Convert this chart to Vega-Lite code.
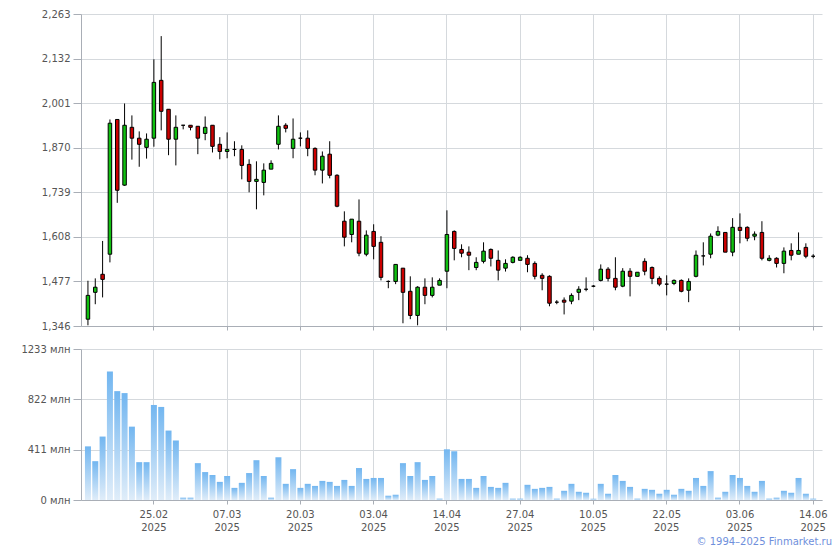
{
  "$schema": "https://vega.github.io/schema/vega-lite/v6.json",
  "padding": {"left": 20, "top": 9, "right": 0, "bottom": 0},
  "background": "white",
  "config": {
    "view": {"stroke": null},
    "font": "DejaVu Sans",
    "axis": {"labelFont": "DejaVu Sans", "labelFontSize": 10, "labelColor": "#555555", "domainColor": "#a9aeb6", "tickColor": "#a9aeb6", "gridColor": "#d5d9dd"}
  },
  "bounds": "flush",
  "spacing": 23,
  "title": {"text": "© 1994–2025 Finmarket.ru", "orient": "bottom", "anchor": "end", "fontSize": 10, "font": "DejaVu Sans", "fontWeight": "normal", "color": "#6f8fdc", "offset": 5, "dx": 5},
  "data": {"values": [
    {"d":"2025-02-12","o":1366,"h":1479,"l":1348,"c":1436,"v":438},
    {"d":"2025-02-13","o":1445,"h":1486,"l":1410,"c":1460,"v":317},
    {"d":"2025-02-14","o":1498,"h":1596,"l":1430,"c":1483,"v":518},
    {"d":"2025-02-17","o":1557,"h":1953,"l":1533,"c":1942,"v":1050},
    {"d":"2025-02-18","o":1953,"h":1953,"l":1708,"c":1745,"v":889},
    {"d":"2025-02-19","o":1760,"h":2000,"l":1758,"c":1936,"v":873},
    {"d":"2025-02-20","o":1930,"h":1965,"l":1835,"c":1898,"v":599},
    {"d":"2025-02-21","o":1898,"h":1918,"l":1814,"c":1880,"v":309},
    {"d":"2025-02-24","o":1871,"h":1912,"l":1838,"c":1895,"v":309},
    {"d":"2025-02-25","o":1898,"h":2130,"l":1873,"c":2062,"v":776},
    {"d":"2025-02-26","o":2068,"h":2198,"l":1921,"c":1977,"v":760},
    {"d":"2025-02-27","o":1983,"h":1983,"l":1848,"c":1895,"v":567},
    {"d":"2025-02-28","o":1895,"h":1965,"l":1818,"c":1930,"v":486},
    {"d":"2025-03-01","o":1936,"h":1936,"l":1924,"c":1936,"v":19},
    {"d":"2025-03-02","o":1936,"h":1936,"l":1921,"c":1930,"v":19},
    {"d":"2025-03-03","o":1933,"h":1933,"l":1851,"c":1898,"v":301},
    {"d":"2025-03-04","o":1912,"h":1962,"l":1892,"c":1930,"v":228},
    {"d":"2025-03-05","o":1936,"h":1936,"l":1856,"c":1874,"v":204},
    {"d":"2025-03-06","o":1880,"h":1901,"l":1836,"c":1859,"v":148},
    {"d":"2025-03-07","o":1859,"h":1915,"l":1839,"c":1865,"v":196},
    {"d":"2025-03-10","o":1865,"h":1889,"l":1845,"c":1865,"v":99},
    {"d":"2025-03-11","o":1865,"h":1877,"l":1777,"c":1818,"v":140},
    {"d":"2025-03-12","o":1821,"h":1836,"l":1739,"c":1771,"v":220},
    {"d":"2025-03-13","o":1771,"h":1830,"l":1689,"c":1777,"v":325},
    {"d":"2025-03-14","o":1768,"h":1824,"l":1730,"c":1804,"v":196},
    {"d":"2025-03-15","o":1807,"h":1833,"l":1807,"c":1824,"v":19},
    {"d":"2025-03-17","o":1880,"h":1965,"l":1865,"c":1933,"v":349},
    {"d":"2025-03-18","o":1936,"h":1942,"l":1915,"c":1927,"v":132},
    {"d":"2025-03-19","o":1868,"h":1956,"l":1839,"c":1895,"v":252},
    {"d":"2025-03-20","o":1898,"h":1915,"l":1874,"c":1898,"v":99},
    {"d":"2025-03-21","o":1898,"h":1921,"l":1845,"c":1868,"v":132},
    {"d":"2025-03-24","o":1868,"h":1871,"l":1789,"c":1804,"v":115},
    {"d":"2025-03-25","o":1804,"h":1859,"l":1765,"c":1845,"v":156},
    {"d":"2025-03-26","o":1851,"h":1889,"l":1780,"c":1789,"v":148},
    {"d":"2025-03-27","o":1789,"h":1792,"l":1695,"c":1698,"v":115},
    {"d":"2025-03-28","o":1654,"h":1683,"l":1580,"c":1607,"v":164},
    {"d":"2025-03-31","o":1615,"h":1660,"l":1592,"c":1660,"v":115},
    {"d":"2025-04-01","o":1654,"h":1718,"l":1551,"c":1560,"v":261},
    {"d":"2025-04-02","o":1557,"h":1627,"l":1551,"c":1613,"v":172},
    {"d":"2025-04-03","o":1624,"h":1645,"l":1542,"c":1580,"v":180},
    {"d":"2025-04-04","o":1592,"h":1610,"l":1480,"c":1489,"v":180},
    {"d":"2025-04-05","o":1477,"h":1480,"l":1457,"c":1477,"v":35},
    {"d":"2025-04-06","o":1477,"h":1527,"l":1469,"c":1527,"v":43},
    {"d":"2025-04-07","o":1516,"h":1516,"l":1354,"c":1445,"v":301},
    {"d":"2025-04-08","o":1448,"h":1492,"l":1366,"c":1377,"v":196},
    {"d":"2025-04-09","o":1377,"h":1463,"l":1348,"c":1460,"v":309},
    {"d":"2025-04-10","o":1460,"h":1486,"l":1410,"c":1436,"v":164},
    {"d":"2025-04-11","o":1436,"h":1489,"l":1430,"c":1460,"v":196},
    {"d":"2025-04-12","o":1466,"h":1486,"l":1466,"c":1480,"v":11},
    {"d":"2025-04-14","o":1507,"h":1686,"l":1457,"c":1615,"v":414},
    {"d":"2025-04-15","o":1624,"h":1627,"l":1539,"c":1574,"v":398},
    {"d":"2025-04-16","o":1571,"h":1586,"l":1548,"c":1560,"v":172},
    {"d":"2025-04-17","o":1563,"h":1580,"l":1510,"c":1554,"v":172},
    {"d":"2025-04-18","o":1518,"h":1548,"l":1510,"c":1533,"v":99},
    {"d":"2025-04-21","o":1536,"h":1592,"l":1530,"c":1566,"v":196},
    {"d":"2025-04-22","o":1571,"h":1574,"l":1521,"c":1545,"v":107},
    {"d":"2025-04-23","o":1539,"h":1568,"l":1480,"c":1510,"v":99},
    {"d":"2025-04-24","o":1516,"h":1542,"l":1506,"c":1530,"v":140},
    {"d":"2025-04-26","o":1533,"h":1551,"l":1530,"c":1548,"v":11},
    {"d":"2025-04-27","o":1539,"h":1551,"l":1539,"c":1548,"v":11},
    {"d":"2025-04-28","o":1545,"h":1554,"l":1504,"c":1527,"v":124},
    {"d":"2025-04-29","o":1530,"h":1536,"l":1483,"c":1492,"v":91},
    {"d":"2025-04-30","o":1495,"h":1501,"l":1451,"c":1486,"v":99},
    {"d":"2025-05-02","o":1492,"h":1495,"l":1404,"c":1413,"v":107},
    {"d":"2025-05-03","o":1416,"h":1422,"l":1410,"c":1416,"v":11},
    {"d":"2025-05-05","o":1422,"h":1430,"l":1380,"c":1416,"v":75},
    {"d":"2025-05-06","o":1419,"h":1442,"l":1410,"c":1436,"v":132},
    {"d":"2025-05-07","o":1445,"h":1463,"l":1422,"c":1454,"v":67},
    {"d":"2025-05-08","o":1454,"h":1489,"l":1448,"c":1454,"v":59},
    {"d":"2025-05-10","o":1463,"h":1466,"l":1460,"c":1463,"v":11},
    {"d":"2025-05-12","o":1480,"h":1527,"l":1477,"c":1513,"v":132},
    {"d":"2025-05-13","o":1513,"h":1519,"l":1477,"c":1486,"v":51},
    {"d":"2025-05-14","o":1486,"h":1548,"l":1451,"c":1460,"v":204},
    {"d":"2025-05-15","o":1463,"h":1516,"l":1460,"c":1507,"v":156},
    {"d":"2025-05-16","o":1507,"h":1516,"l":1433,"c":1492,"v":107},
    {"d":"2025-05-17","o":1492,"h":1504,"l":1492,"c":1504,"v":11},
    {"d":"2025-05-19","o":1536,"h":1545,"l":1495,"c":1507,"v":91},
    {"d":"2025-05-20","o":1518,"h":1521,"l":1469,"c":1486,"v":83},
    {"d":"2025-05-21","o":1486,"h":1492,"l":1463,"c":1469,"v":51},
    {"d":"2025-05-22","o":1469,"h":1495,"l":1436,"c":1469,"v":83},
    {"d":"2025-05-23","o":1471,"h":1483,"l":1466,"c":1480,"v":43},
    {"d":"2025-05-26","o":1480,"h":1483,"l":1445,"c":1448,"v":91},
    {"d":"2025-05-27","o":1451,"h":1486,"l":1416,"c":1477,"v":75},
    {"d":"2025-05-28","o":1492,"h":1568,"l":1489,"c":1554,"v":180},
    {"d":"2025-05-29","o":1552,"h":1592,"l":1524,"c":1552,"v":115},
    {"d":"2025-05-30","o":1557,"h":1618,"l":1545,"c":1610,"v":236},
    {"d":"2025-05-31","o":1613,"h":1639,"l":1610,"c":1624,"v":19},
    {"d":"2025-06-01","o":1621,"h":1621,"l":1563,"c":1563,"v":67},
    {"d":"2025-06-02","o":1563,"h":1663,"l":1551,"c":1636,"v":204},
    {"d":"2025-06-03","o":1636,"h":1677,"l":1589,"c":1627,"v":180},
    {"d":"2025-06-04","o":1636,"h":1639,"l":1595,"c":1604,"v":115},
    {"d":"2025-06-05","o":1610,"h":1624,"l":1598,"c":1616,"v":67},
    {"d":"2025-06-06","o":1621,"h":1654,"l":1539,"c":1545,"v":156},
    {"d":"2025-06-07","o":1539,"h":1554,"l":1536,"c":1545,"v":11},
    {"d":"2025-06-08","o":1545,"h":1548,"l":1518,"c":1530,"v":19},
    {"d":"2025-06-09","o":1530,"h":1577,"l":1501,"c":1566,"v":75},
    {"d":"2025-06-10","o":1568,"h":1589,"l":1539,"c":1554,"v":59},
    {"d":"2025-06-11","o":1557,"h":1621,"l":1557,"c":1568,"v":180},
    {"d":"2025-06-13","o":1577,"h":1589,"l":1545,"c":1551,"v":51},
    {"d":"2025-06-14","o":1551,"h":1557,"l":1545,"c":1551,"v":11}
  ]},
  "vconcat": [
    {
      "width": 741,
      "height": 312,
      "encoding": {
        "x": {"field": "d", "type": "ordinal", "sort": null,
          "scale": {"type": "band", "paddingInner": 0, "paddingOuter": 0.575, "align": 0.39},
          "axis": {"values": ["2025-02-25","2025-03-07","2025-03-20","2025-04-03","2025-04-14","2025-04-27","2025-05-10","2025-05-22","2025-06-03","2025-06-14"],
            "labels": false, "ticks": true, "tickSize": 4, "grid": true, "bandPosition": 0.5, "title": null}}
      },
      "layer": [
        {"mark": {"type": "rule", "color": "black", "strokeWidth": 1},
         "encoding": {
           "y": {"field": "l", "type": "quantitative", "title": null,
             "scale": {"domain": [1346, 2263], "zero": false, "nice": false},
             "axis": {"values": [1346,1477,1608,1739,1870,2001,2132,2263], "labelExpr": "format(datum.value, ',')", "tickSize": 8, "labelPadding": 3, "grid": true, "title": null}},
           "y2": {"field": "h"}
         }},
        {"mark": {"type": "bar", "width": 3.5, "stroke": "black", "strokeWidth": 1},
         "encoding": {
           "y": {"field": "o", "type": "quantitative", "title": null,
             "axis": {"values": [1346,1477,1608,1739,1870,2001,2132,2263], "labelExpr": "format(datum.value, ',')", "tickSize": 8, "labelPadding": 3, "grid": true, "title": null}},
           "y2": {"field": "c"},
           "fill": {"condition": {"test": "datum.c >= datum.o", "value": "#10c010"}, "value": "#cc0000"}
         }}
      ]
    },
    {
      "width": 741,
      "height": 151,
      "mark": {"type": "bar", "width": 6,
        "fill": {"gradient": "linear", "x1": 0, "y1": 0, "x2": 0, "y2": 1,
          "stops": [{"offset": 0, "color": "#72b6f0"}, {"offset": 1, "color": "#e0edf9"}]}},
      "encoding": {
        "x": {"field": "d", "type": "ordinal", "sort": null,
          "scale": {"type": "band", "paddingInner": 0, "paddingOuter": 0.575, "align": 0.39},
          "axis": {"values": ["2025-02-25","2025-03-07","2025-03-20","2025-04-03","2025-04-14","2025-04-27","2025-05-10","2025-05-22","2025-06-03","2025-06-14"],
            "labelExpr": "[substring(datum.value,8,10) + '.' + substring(datum.value,5,7), substring(datum.value,0,4)]",
            "labelAngle": 0, "tickSize": 4, "labelPadding": 5, "labelLineHeight": 13, "grid": true, "bandPosition": 0.5, "title": null}},
        "y": {"field": "v", "type": "quantitative", "title": null,
          "scale": {"domain": [0, 1233], "nice": false},
          "axis": {"values": [0, 411, 822, 1233], "labelExpr": "datum.value + ' млн'", "tickSize": 8, "labelPadding": 3, "title": null}}
      }
    }
  ]
}
